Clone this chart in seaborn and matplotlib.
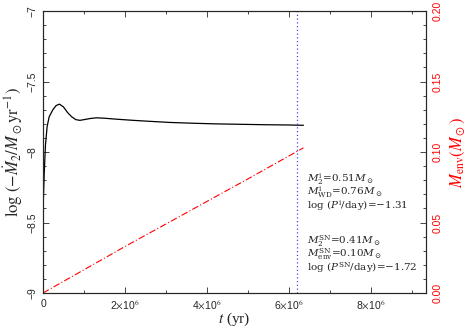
import numpy as np
import pandas as pd
import seaborn as sns
import matplotlib.pyplot as plt
from matplotlib.ticker import MultipleLocator, FixedLocator

# Data
t_mdot = [0.0, 0.03e6, 0.06e6, 0.1e6, 0.15e6, 0.24e6, 0.32e6, 0.4e6, 0.5e6, 0.6e6,
          0.7e6, 0.8e6, 0.9e6, 1.0e6, 1.15e6, 1.3e6, 1.5e6, 1.8e6, 2.2e6, 2.6e6,
          3.1e6, 3.6e6, 4.2e6, 4.8e6, 5.4e6, 6.0e6, 6.35e6]
log_mdot = [-8.42, -8.15, -7.95, -7.82, -7.75, -7.70, -7.67, -7.66, -7.68, -7.72,
            -7.75, -7.77, -7.775, -7.77, -7.762, -7.757, -7.76, -7.767, -7.775, -7.782,
            -7.79, -7.795, -7.80, -7.803, -7.806, -7.808, -7.81]

t_env = [0.0, 1e6, 2e6, 3e6, 4e6, 5e6, 6.35e6]
m_env = [0.0, 0.0165, 0.033, 0.049, 0.065, 0.081, 0.103]

t_sn = 6.2e6

x_ticks = [0, 2e6, 4e6, 6e6, 8e6]
x_ticklabels = ["0", r"2$\times$10$^6$", r"4$\times$10$^6$", r"6$\times$10$^6$", r"8$\times$10$^6$"]
y_ticks = [-9, -8.5, -8, -7.5, -7]
y_ticklabels = ["\u22129", "\u22128.5", "\u22128", "\u22127.5", "\u22127"]
env_ticks = [0.0, 0.05, 0.10, 0.15, 0.20]
env_ticklabels = ["0.00", "0.05", "0.10", "0.15", "0.20"]

# two annotation blocks
text_init = "$M_2^{\\rm i}$=0.51$M_\\odot$\n$M_{\\rm WD}^{\\rm i}$=0.76$M_\\odot$\nlog ($P^{\\rm i}$/day)=\u22121.31"
text_sn = "$M_2^{\\rm SN}$=0.41$M_\\odot$\n$M_{\\rm env}^{\\rm SN}$=0.10$M_\\odot$\nlog ($P^{\\rm SN}$/day)=\u22121.72"
note_x = 6.43e6

sns.set_style("ticks")
plt.rcParams['font.family'] = ['Liberation Sans', 'DejaVu Sans']
plt.rcParams['mathtext.fontset'] = 'stix'

df_mdot = pd.DataFrame({"t": t_mdot, "v": log_mdot})
df_env = pd.DataFrame({"t": t_env, "v": m_env})

fig = plt.figure(figsize=(4.7, 3.27), dpi=100)
ax = fig.add_axes([0.0915, 0.104, 0.815, 0.862])

sns.lineplot(data=df_mdot, x="t", y="v", ax=ax, color="black", linewidth=0.9)
ax.axvline(t_sn, color="#4848e0", linestyle=(0, (1, 2)), linewidth=0.9)

ax.set_xlim(0, 9.34e6)
ax.set_ylim(-9, -7)
ax.set_xticks(x_ticks)
ax.set_xticklabels(x_ticklabels, fontsize=7.5)
ax.xaxis.set_minor_locator(MultipleLocator(1e6))
ax.set_yticks(y_ticks)
ax.set_yticklabels(y_ticklabels, fontsize=7.5, rotation=90, va="center")
ax.yaxis.set_minor_locator(MultipleLocator(0.1))
ax.tick_params(which="both", direction="in", top=True, length=4, width=0.6, pad=4)
ax.tick_params(which="minor", length=2.5)
ax.set_xlabel("$t$ (yr)", fontsize=11, family="Liberation Serif", labelpad=-1)
ax.set_ylabel(r"$\log\,(-\dot{M}_2/M_\odot\mathrm{yr}^{-1})$", fontsize=12, labelpad=2)

ax2 = ax.twinx()
sns.lineplot(data=df_env, x="t", y="v", ax=ax2, color="red",
             linestyle=(0, (6, 2, 1, 2)), linewidth=0.8)
ax2.set_ylim(0, 0.2)
ax2.yaxis.set_major_locator(FixedLocator(env_ticks))
ax2.set_yticklabels(env_ticklabels, fontsize=7.5, rotation=90, va="center", color="red")
ax2.yaxis.set_minor_locator(MultipleLocator(0.01))
ax2.tick_params(which="both", direction="in", length=4, width=0.6, pad=5)
ax2.tick_params(which="minor", length=2.5)
ax2.set_xlabel("")
ax2.set_ylabel(r"$M_{\rm env}(M_\odot)$", fontsize=12, color="red", labelpad=4)

for a in (ax, ax2):
    for s in a.spines.values():
        s.set_linewidth(0.8)

for block, y in ((text_init, -8.14), (text_sn, -8.58)):
    ax.text(note_x, y, block, fontsize=7.5, family="DejaVu Serif",
            math_fontfamily="dejavuserif", va="top", ha="left", linespacing=0.82)

fig.savefig("out.png", dpi=100)
